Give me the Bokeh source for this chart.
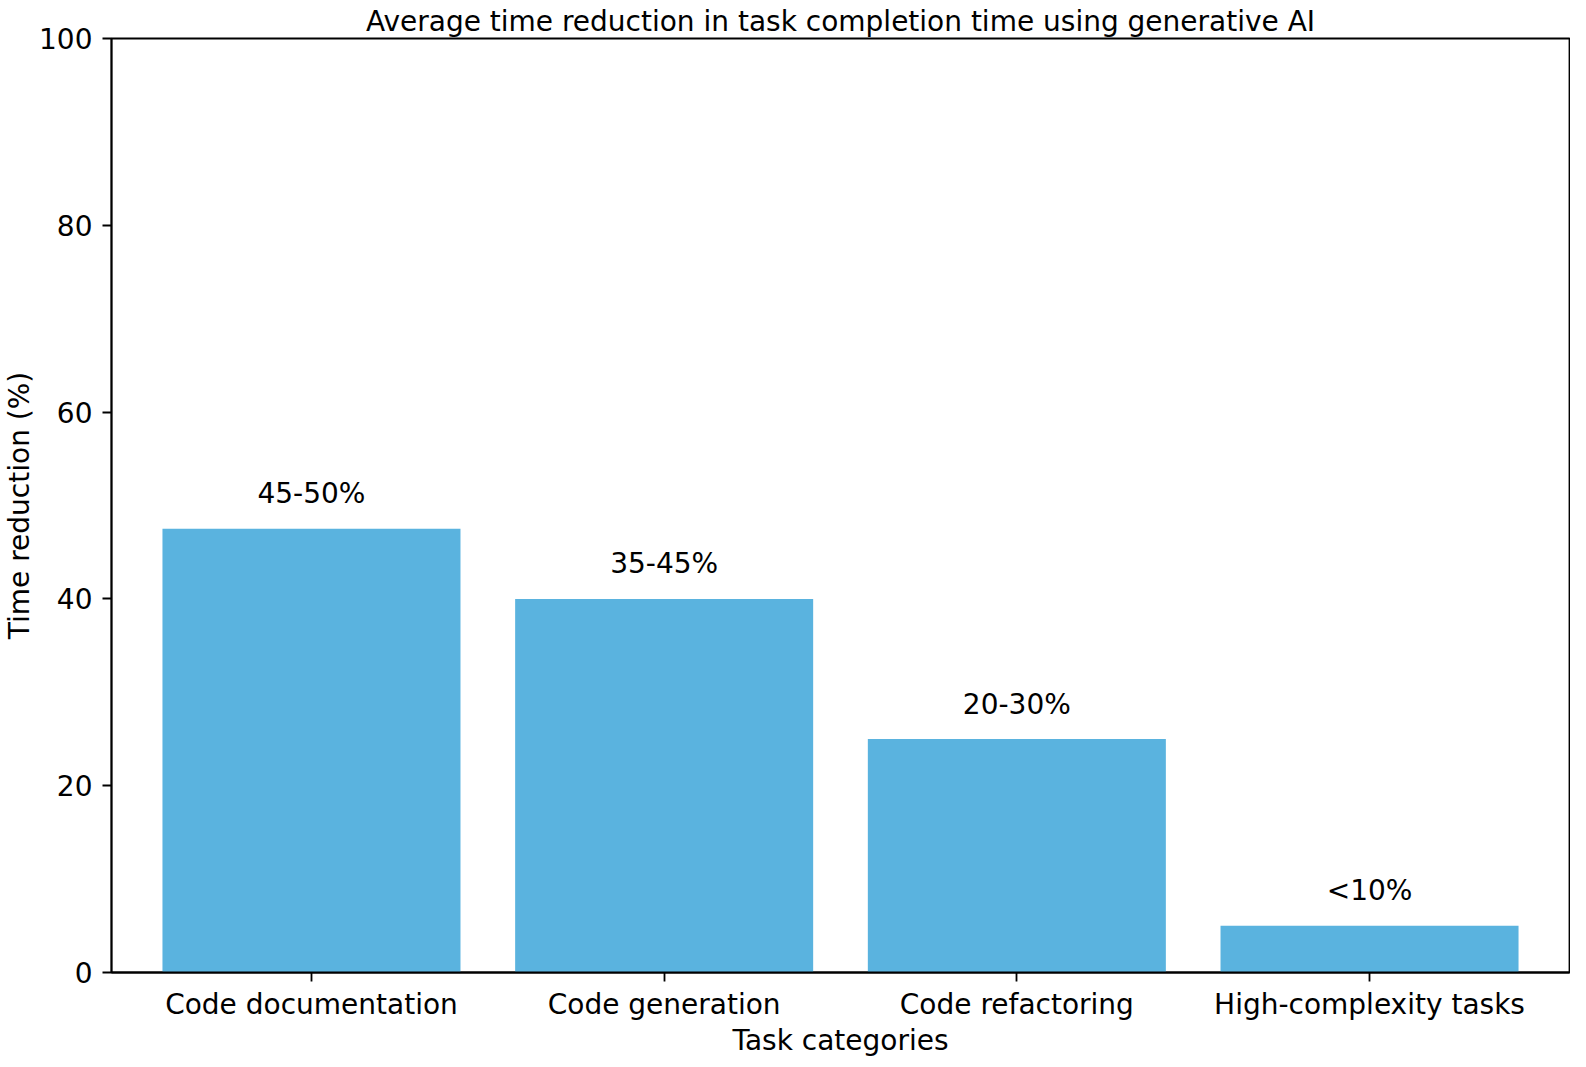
from bokeh.plotting import figure
from bokeh.models import Range1d, FixedTicker, ColumnDataSource
from bokeh.embed import file_html
from bokeh.resources import INLINE
from bokeh.core.properties import value

categories = ["Code documentation", "Code generation", "Code refactoring", "High-complexity tasks"]
reductions = [47.5, 40, 25, 5]
bar_labels = ["45-50%", "35-45%", "20-30%", "<10%"]
y_ticks = [0, 20, 40, 60, 80, 100]
title_text = "Average time reduction in task completion time using generative AI"
x_label_text = "Task categories"
y_label_text = "Time reduction (%)"

FONT = "DejaVu Sans"
FS = "28px"

xs = list(range(len(categories)))
src = ColumnDataSource(dict(x=xs, top=reductions, label=bar_labels))

p = figure(width=1570, height=1059, output_backend="svg", toolbar_location=None,
           x_range=Range1d(-0.567, len(categories) - 1 + 0.567), y_range=Range1d(0, 100),
           min_border_left=107, min_border_right=1, min_border_top=38, min_border_bottom=81)

p.title.text = title_text
p.title.align = "center"
p.title.text_font = FONT
p.title.text_font_size = FS
p.title.text_font_style = "normal"
p.title.text_color = "black"
p.title.standoff = 2

p.vbar(x="x", top="top", width=0.845, bottom=0, source=src, color="#5ab3df", line_color=None)
p.text(x="x", y="top", text="label", source=src, text_align="center", text_baseline="alphabetic",
       y_offset=-35, text_font=value(FONT), text_font_size=FS, text_color="black")

p.xgrid.visible = False
p.ygrid.visible = False
p.outline_line_color = "black"
p.outline_line_width = 1.8
p.outline_line_alpha = 1.0

p.xaxis.ticker = FixedTicker(ticks=xs)
p.xaxis.major_label_overrides = {i: c for i, c in enumerate(categories)}
p.yaxis.ticker = FixedTicker(ticks=y_ticks)
p.xaxis.axis_label = x_label_text
p.yaxis.axis_label = y_label_text

for ax in (p.xaxis, p.yaxis):
    ax.axis_line_color = "black"
    ax.axis_line_width = 1.8
    ax.major_tick_line_color = "black"
    ax.major_tick_line_width = 1.8
    ax.major_tick_out = 9
    ax.major_tick_in = 0
    ax.minor_tick_line_color = None
    ax.major_label_text_font = FONT
    ax.major_label_text_font_size = FS
    ax.major_label_text_color = "black"
    ax.major_label_text_line_height = 1.0
    ax.axis_label_text_font = FONT
    ax.axis_label_text_font_size = FS
    ax.axis_label_text_font_style = "normal"
    ax.axis_label_text_color = "black"
    ax.axis_label_text_line_height = 1.0

p.xaxis.major_label_standoff = 6
p.yaxis.major_label_standoff = 10
p.xaxis.axis_label_standoff = 0
p.yaxis.axis_label_standoff = 0

open("out.html", "w").write(file_html(p, INLINE))
